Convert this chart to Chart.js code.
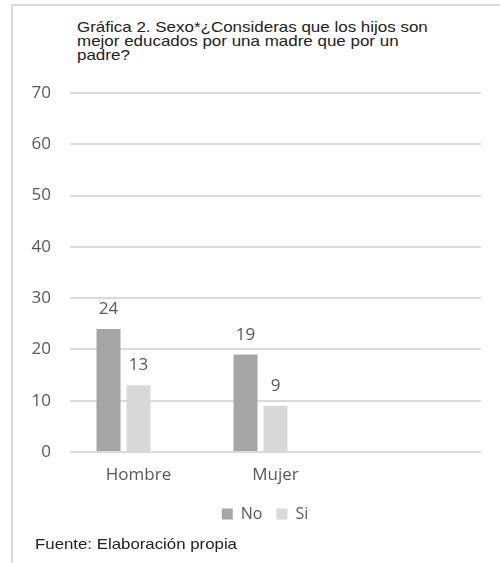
<!DOCTYPE html>
<html>
<head>
<meta charset="utf-8">
<script src="https://cdn.jsdelivr.net/npm/chart.js"></script>
<style>
  html, body { margin: 0; padding: 0; background: #fff; }
  body { width: 500px; height: 563px; position: relative; overflow: hidden; }
  .frame { position: absolute; left: 11px; top: 4px; width: 520px; height: 600px;
           border-left: 2px solid #d9d9d9; border-top: 2px solid #d9d9d9; }
  .title { position: absolute; left: 77px; top: 21px; font-family: "Liberation Sans", Arial, sans-serif;
           font-size: 14.5px; line-height: 13.8px; color: #222; white-space: nowrap;
           transform: scaleX(1.17); transform-origin: left top; }
  .source { position: absolute; left: 35px; top: 537px; font-family: "Liberation Sans", Arial, sans-serif;
            font-size: 14.5px; line-height: 14.5px; color: #222; white-space: nowrap;
            transform: scaleX(1.16); transform-origin: left top; }
  canvas { position: absolute; left: 0; top: 0; }
</style>
</head>
<body>
<div class="frame"></div>
<div class="title">Gráfica 2. Sexo*¿Consideras que los hijos son<br>mejor educados por una madre que por un<br>padre?</div>
<canvas id="chart" width="500" height="563"></canvas>
<div class="source">Fuente: Elaboración propia</div>
<script>
// data
const categories = ['Hombre', 'Mujer', ''];
const seriesNames = ['No', 'Si'];
const noValues = [24, 19];
const siValues = [13, 9];
const emptySeries = [];   // the original has a third, empty slot in each group
const yMin = 0;
const yMax = 70;
const yStep = 10;

const tickFont = { family: '"Open Sans", sans-serif', size: 17 };
const textGrey = '#595959';

// value labels above each bar
const barLabels = {
    id: 'barLabels',
    afterDatasetsDraw(chart) {
        const ctx = chart.ctx;
        ctx.save();
        ctx.font = '17px "Open Sans", sans-serif';
        ctx.fillStyle = textGrey;
        ctx.textAlign = 'center';
        ctx.textBaseline = 'alphabetic';
        chart.data.datasets.forEach((ds, i) => {
            const meta = chart.getDatasetMeta(i);
            meta.data.forEach((bar, j) => {
                const v = ds.data[j];
                if (v === null || v === undefined) return;
                ctx.fillText(String(v), bar.x, bar.y - 15);
            });
        });
        ctx.restore();
    }
};

// legend in the original sits centred on the whole (wider) chart, a bit right of the plot
const legendShift = {
    id: 'legendShift',
    afterLayout(chart) {
        chart.legend.left += 24.5;
        chart.legend.right += 24.5;
    }
};

new Chart(document.getElementById('chart'), {
    type: 'bar',
    data: {
        labels: categories,
        datasets: [
            { label: seriesNames[0], data: noValues, backgroundColor: '#a5a5a5' },
            { label: seriesNames[1], data: siValues, backgroundColor: '#d9d9d9' },
            { label: '', data: emptySeries, backgroundColor: '#ffffff' }
        ]
    },
    options: {
        responsive: false,
        animation: false,
        devicePixelRatio: 1,
        categoryPercentage: 0.657,
        barPercentage: 0.8,
        layout: { padding: { left: 0, right: 19, top: 93, bottom: 31 } },
        plugins: {
            title: { display: false },
            tooltip: { enabled: false },
            legend: {
                position: 'bottom',
                labels: {
                    boxWidth: 11,
                    boxHeight: 11,
                    padding: 14,
                    color: textGrey,
                    font: { family: '"Open Sans", sans-serif', size: 16 },
                    filter: (item) => item.text !== ''
                }
            }
        },
        scales: {
            x: {
                grid: { display: false },
                border: { display: false },
                ticks: { color: textGrey, font: tickFont, padding: 5 },
                afterFit: (scale) => { scale.height = 40; }
            },
            y: {
                min: yMin,
                max: yMax,
                grid: { color: '#d9d9d9', lineWidth: 2, drawTicks: false },
                border: { display: false },
                ticks: { stepSize: yStep, color: textGrey, font: tickFont, padding: 19 },
                afterFit: (scale) => { scale.width = 70; }
            }
        }
    },
    plugins: [barLabels, legendShift]
});
</script>
</body>
</html>
